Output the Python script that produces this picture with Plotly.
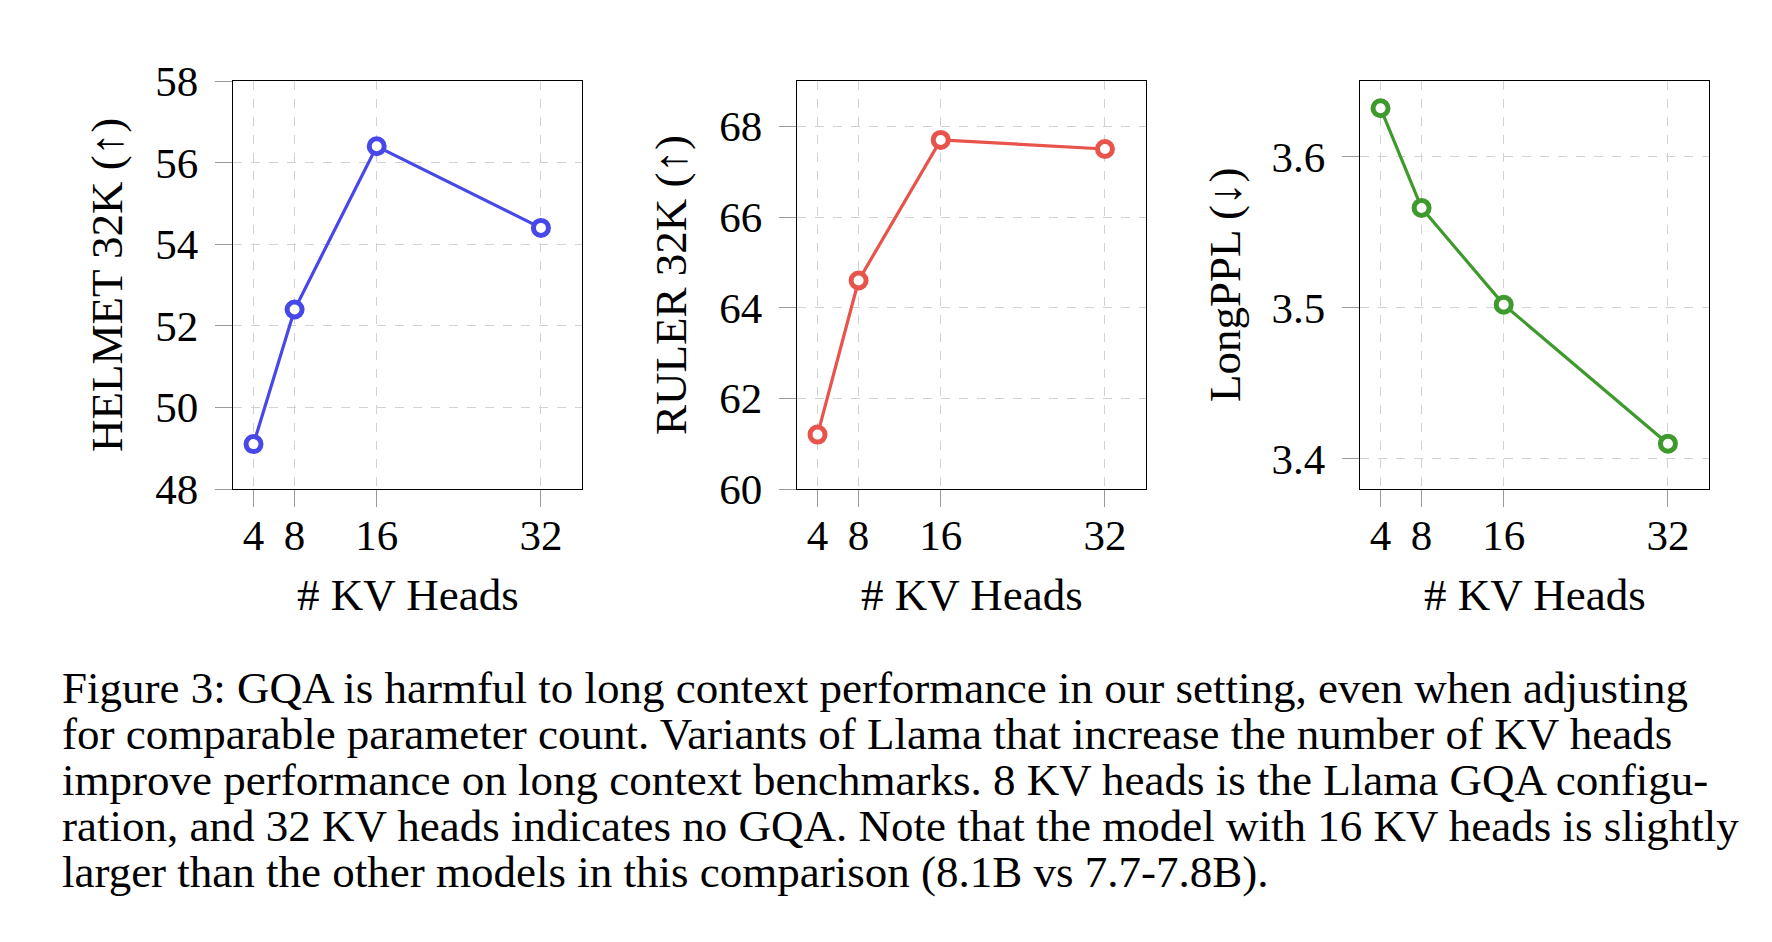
import plotly.graph_objects as go
from plotly.subplots import make_subplots

# data
kv_heads = [4, 8, 16, 32]
helmet_32k = [49.1, 52.4, 56.4, 54.4]
ruler_32k = [61.2, 64.6, 67.7, 67.5]
long_ppl = [3.632, 3.566, 3.502, 3.410]

x_ticks = [4, 8, 16, 32]
helmet_ticks = [48, 50, 52, 54, 56, 58]
ruler_ticks = [60, 62, 64, 66, 68]
ppl_ticks = [3.4, 3.5, 3.6]

y_titles = ["HELMET 32K (↑)", "RULER 32K (↑)", "LongPPL (↓)"]
x_title = "# KV Heads"

caption_lines = [
    "Figure 3: GQA is harmful to long context performance in our setting, even when adjusting",
    "for comparable parameter count. Variants of Llama that increase the number of KV heads",
    "improve performance on long context benchmarks. 8 KV heads is the Llama GQA configu-",
    "ration, and 32 KV heads indicates no GQA. Note that the model with 16 KV heads is slightly",
    "larger than the other models in this comparison (8.1B vs 7.7-7.8B).",
]

W, H = 1772, 942
OFF = 8  # page body margin
FONT = "Liberation Serif"
colors = ["#4848e8", "#e8534b", "#3e9a2c"]


def fx(px):
    return (px - OFF) / W


def fy(py):
    return 1 - (py - OFF) / H


# panel boxes in screen pixels (left, right), shared top/bottom
boxes = [(233, 582), (797, 1146), (1360, 1709)]
top, bottom = 81, 489

fig = make_subplots(rows=1, cols=3)

series = [helmet_32k, ruler_32k, long_ppl]
for i, (vals, col) in enumerate(zip(series, colors)):
    fig.add_trace(go.Scatter(
        x=kv_heads, y=vals,
        mode="lines+markers",
        line=dict(color=col, width=3.2),
        marker=dict(size=15, color="white", line=dict(color=col, width=5)),
        showlegend=False,
    ), row=1, col=i + 1)

y_ranges = [[48, 58], [60, 69], [3.38, 3.65]]
y_tickvals = [helmet_ticks, ruler_ticks, ppl_ticks]
y_fmt = ["d", "d", ".1f"]

axis_common = dict(
    showline=True, linecolor="black", linewidth=1.4, mirror=True,
    ticks="outside", ticklen=17, tickcolor="#9a9a9a", tickwidth=1,
    showgrid=True, gridcolor="#d2d2d2", gridwidth=1, griddash="dash",
    zeroline=False, automargin=False,
    tickfont=dict(family=FONT, size=43, color="black"),
)

for i in range(3):
    l, r = boxes[i]
    fig.update_xaxes(
        domain=[fx(l), fx(r)], range=[2, 36],
        tickvals=x_ticks, ticklabelstandoff=-9,
        row=1, col=i + 1, **axis_common,
    )
    fig.update_yaxes(
        domain=[fy(bottom), fy(top)], range=y_ranges[i],
        tickvals=y_tickvals[i], tickformat=y_fmt[i], ticklabelstandoff=8,
        row=1, col=i + 1, **axis_common,
    )

annotations = []
y_title_x = [107, 671, 1225]
for i in range(3):
    l, r = boxes[i]
    annotations.append(dict(
        text=y_titles[i], textangle=-90,
        x=fx(y_title_x[i]), y=fy((top + bottom) / 2),
        xref="paper", yref="paper", showarrow=False,
        xanchor="center", yanchor="middle",
        font=dict(family=FONT, size=45, color="black"),
    ))
    annotations.append(dict(
        text=x_title,
        x=fx((l + r) / 2), y=fy(595),
        xref="paper", yref="paper", showarrow=False,
        xanchor="center", yanchor="middle",
        font=dict(family=FONT, size=45, color="black"),
    ))

for k, line in enumerate(caption_lines):
    annotations.append(dict(
        text=line,
        x=fx(60), y=fy(688 + 46 * k),
        xref="paper", yref="paper", showarrow=False,
        xanchor="left", yanchor="middle", align="left",
        font=dict(family=FONT, size=45, color="black"),
    ))

fig.update_layout(
    width=W, height=H,
    margin=dict(l=0, r=0, t=0, b=0, autoexpand=False),
    paper_bgcolor="white", plot_bgcolor="white",
    annotations=annotations,
)

fig.write_html("out.html")
